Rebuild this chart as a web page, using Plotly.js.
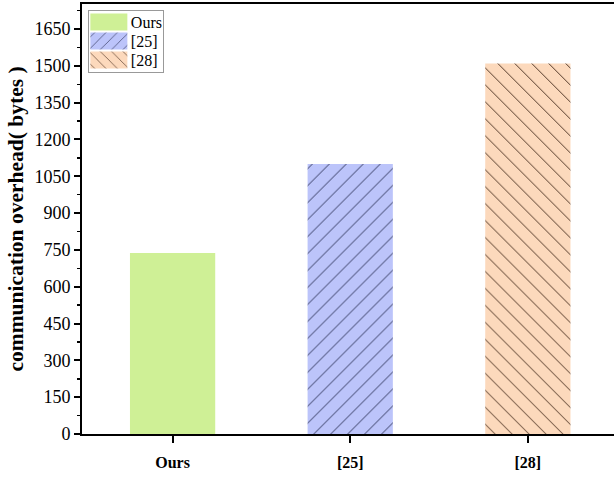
<!DOCTYPE html>
<html><head><meta charset="utf-8">
<script src="https://cdn.plot.ly/plotly-3.0.1.min.js"></script>
<style>body{margin:0;padding:0;}#chart{width:614px;height:477px;}</style>
</head><body><div id="chart"></div>
<script>
const categories = ["Ours", "[25]", "[28]"];
const seriesNames = ["Ours", "[25]", "[28]"];
const values = [737, 1100, 1510];
const yTickVals = [0,150,300,450,600,750,900,1050,1200,1350,1500,1650];

const fills = ["#cff096", "#bcc4fa", "#fcd9bc"];
const shapes = ["", "/", "\\"];
const fgs = ["#000", "#2e3358", "#4a3020"];

const traces = seriesNames.map((n, i) => ({
  type: "bar",
  name: n,
  x: [categories[i]],
  y: [values[i]],
  width: 0.48,
  marker: {
    color: fills[i],
    line: {width: 0},
    pattern: {shape: shapes[i], fgcolor: fgs[i], bgcolor: fills[i], size: 12, solidity: 0.08, fgopacity: 1}
  }
}));

const font = "Liberation Serif";
const layout = {
  width: 614, height: 477,
  margin: {l: 82, r: 0, t: 4, b: 43},
  paper_bgcolor: "#fff", plot_bgcolor: "#fff",
  font: {family: font, color: "#000", size: 16},
  showlegend: true,
  barmode: "overlay",
  legend: {x: 0.011, y: 0.986, xanchor: "left", yanchor: "top", bgcolor: "#fff",
           bordercolor: "#999", borderwidth: 1, font: {family: font, size: 16},
           tracegroupgap: 0, itemwidth: 40},
  xaxis: {
    type: "category", range: [-0.51, 2.485],
    showline: true, linecolor: "#000", linewidth: 2, mirror: true,
    ticks: "outside", ticklen: 7, tickwidth: 2, tickcolor: "#000",
    showgrid: false, zeroline: false,
    tickfont: {family: font, size: 16, weight: "bold"},
    ticklabelstandoff: 6
  },
  yaxis: {
    range: [0, 1752],
    tickvals: yTickVals,
    ticktext: yTickVals.map(String),
    showline: true, linecolor: "#000", linewidth: 2,
    ticks: "outside", ticklen: 6, tickwidth: 2, tickcolor: "#000",
    minor: {dtick: 75, tick0: 0, ticks: "outside", ticklen: 3, tickwidth: 1.5, tickcolor: "#000"},
    showgrid: false, zeroline: false,
    tickfont: {family: font, size: 18},
    title: {text: "communication overhead( bytes )", font: {family: font, size: 21.5, weight: "bold"}, standoff: 5}
  }
};
Plotly.newPlot("chart", traces, layout, {displayModeBar: false, staticPlot: true}).then(gd => {
  // enlarge legend swatches and tighten rows to match the reference legend box
  const leg = gd.querySelector(".legend");
  if (!leg) return;
  const items = leg.querySelectorAll(".traces");
  items.forEach((g, i) => {
    g.setAttribute("transform", "translate(0," + (12 + i * 19) + ")");
    g.querySelectorAll(".legendpoints path").forEach(p => {
      p.setAttribute("d", "M18.5,8.5H-18.5V-8.5H18.5Z");
      p.setAttribute("transform", "translate(21,0)");
    });
    const t = g.querySelector(".legendtext");
    if (t) t.setAttribute("x", "43");
  });
  const bg = leg.querySelector(".bg");
  if (bg) { bg.setAttribute("height", "62"); bg.setAttribute("width", "75"); }
});
</script></body></html>
